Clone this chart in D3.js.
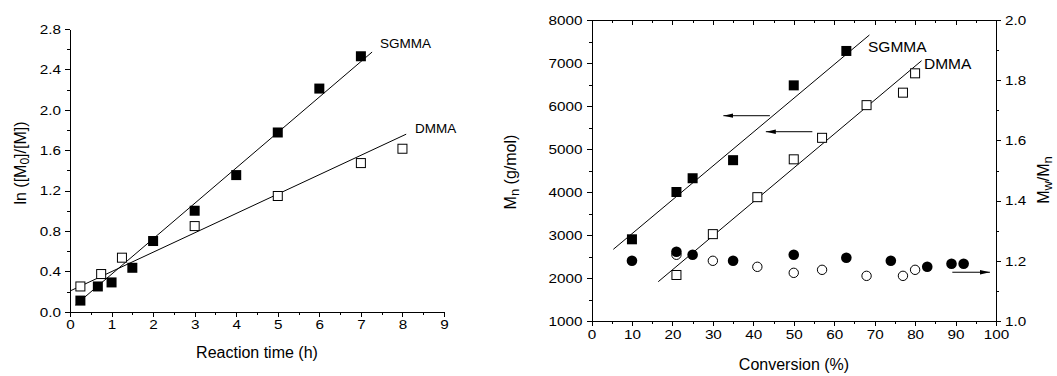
<html>
<head>
<script src="https://d3js.org/d3.v7.min.js"></script>
<style>
body { margin: 0; background: #fff; }
.axis path, .axis line { fill: none; stroke: #000; stroke-width: 1; shape-rendering: crispEdges; }
.axis text { font-family: "Liberation Sans", Arial, sans-serif; font-size: 13.5px; fill: #000; }
.title { font-family: "Liberation Sans", Arial, sans-serif; font-size: 16px; fill: #000; }
.lbl { font-family: "Liberation Sans", Arial, sans-serif; fill: #000; }
.fit { stroke: #000; stroke-width: 1; fill: none; }
</style>
</head>
<body>
<div id="vis_container"></div>
<script>
// ---- left chart data: ln([M0]/[M]) vs time
var timeSG = [0.25, 0.67, 1, 1.5, 2, 3, 4, 5, 6, 7];
var lnSG = [0.11, 0.25, 0.29, 0.435, 0.70, 1.0, 1.353, 1.775, 2.21, 2.53];
var timeDM = [0.25, 0.75, 1.25, 3, 5, 7, 8];
var lnDM = [0.25, 0.373, 0.535, 0.848, 1.146, 1.472, 1.614];
// linear fits [intercept, slope, tStart, tEnd]
var fitSG = [0.02, 0.351, 0.13, 7.27];
var fitDM = [0.205, 0.192, 0.0, 8.09];
var xTicksL = [0, 1, 2, 3, 4, 5, 6, 7, 8, 9];
var yTicksL = [0, 0.4, 0.8, 1.2, 1.6, 2.0, 2.4, 2.8];

// ---- right chart data: Mn and Mw/Mn vs conversion
var convSG = [10, 21, 25, 35, 50, 63];
var mnSG = [2900, 4000, 4320, 4740, 6480, 7280];
var convDM = [21, 30, 41, 50, 57, 68, 77, 80];
var mnDM = [2070, 3020, 3880, 4760, 5260, 6020, 6310, 6760];
var convPdiSG = [10, 21, 25, 35, 50, 63, 74, 83, 89, 92];
var pdiSG = [1.20, 1.23, 1.22, 1.20, 1.22, 1.21, 1.20, 1.18, 1.19, 1.19];
var convPdiDM = [21, 30, 41, 50, 57, 68, 77, 80];
var pdiDM = [1.22, 1.20, 1.18, 1.16, 1.17, 1.15, 1.15, 1.17];
// fits in data units [x0, y0, x1, y1]
var fitMnSG = [5.4, 2667, 68.7, 7651];
var fitMnDM = [16.5, 1914, 81.6, 7053];
var xTicksR = [0, 10, 20, 30, 40, 50, 60, 70, 80, 90, 100];
var yTicksR = [1000, 2000, 3000, 4000, 5000, 6000, 7000, 8000];
var y2TicksR = [1.0, 1.2, 1.4, 1.6, 1.8, 2.0];

var width = 1057, height = 376;
var svg = d3.select("#vis_container").append("svg")
    .attr("width", width).attr("height", height);

svg.append("defs").append("marker")
    .attr("id", "arr").attr("viewBox", "0 0 10 6")
    .attr("refX", 10).attr("refY", 3)
    .attr("markerWidth", 10).attr("markerHeight", 6)
    .attr("markerUnits", "userSpaceOnUse")
    .attr("orient", "auto")
    .append("path").attr("d", "M0,0.8 L10,3 L0,5.2 Z").attr("fill", "#000");

function minor(lo, hi, step) {
    var a = [];
    for (var v = lo; v <= hi + 1e-9; v += step) a.push(+v.toFixed(4));
    return a;
}

function drawAxis(g, axisFn, scale, major, minorStep, fmt, outward) {
    var mn = minor(scale.domain()[0], scale.domain()[1], minorStep);
    g.append("g").attr("class", "axis")
        .call(axisFn(scale).tickValues(mn).tickSize(outward ? 3 : -3).tickFormat(""))
        .select(".domain").remove();
    g.append("g").attr("class", "axis")
        .call(axisFn(scale).tickValues(major).tickSize(outward ? 5 : -5).tickSizeOuter(0).tickPadding(3).tickFormat(fmt))
        .selectAll("text").attr("transform", "scale(1.13,1)");
}

// ================= left chart
var xL = d3.scaleLinear().domain([0, 9]).range([70, 444]);
var yL = d3.scaleLinear().domain([0, 2.8]).range([311.7, 29]);
var gL = svg.append("g");

var gxL = gL.append("g").attr("transform", "translate(0," + yL(0) + ")");
drawAxis(gxL, d3.axisBottom, xL, xTicksL, 0.5, d3.format("d"), true);
var gyL = gL.append("g").attr("transform", "translate(" + xL(0) + ",0)");
drawAxis(gyL, d3.axisLeft, yL, yTicksL, 0.2, d3.format(".1f"), true);

[fitSG, fitDM].forEach(function(f) {
    gL.append("line").attr("class", "fit")
        .attr("x1", xL(f[2])).attr("y1", yL(f[0] + f[1] * f[2]))
        .attr("x2", xL(f[3])).attr("y2", yL(f[0] + f[1] * f[3]));
});

var sq = 10;
gL.selectAll("rect.dm").data(timeDM).enter().append("rect")
    .attr("x", function(d) { return xL(d) - sq / 2 + 0.5; })
    .attr("y", function(d, i) { return yL(lnDM[i]) - sq / 2 + 0.5; })
    .attr("width", sq - 1).attr("height", sq - 1)
    .attr("fill", "#fff").attr("stroke", "#000").attr("stroke-width", 1);
gL.selectAll("rect.sg").data(timeSG).enter().append("rect")
    .attr("x", function(d) { return xL(d) - sq / 2; })
    .attr("y", function(d, i) { return yL(lnSG[i]) - sq / 2; })
    .attr("width", sq).attr("height", sq).attr("fill", "#000");

gL.append("text").attr("class", "lbl").attr("font-size", "13.5px").attr("x", 380).attr("y", 48).text("SGMMA");
gL.append("text").attr("class", "lbl").attr("font-size", "13.5px").attr("x", 415).attr("y", 133).text("DMMA");

gL.append("text").attr("class", "title").attr("text-anchor", "middle")
    .attr("x", 257).attr("y", 358).text("Reaction time (h)");
var tl = gL.append("text").attr("class", "title").attr("text-anchor", "middle")
    .attr("transform", "translate(26,163) rotate(-90)");
tl.append("tspan").text("ln ([M");
tl.append("tspan").attr("baseline-shift", "-25%").attr("font-size", "12px").text("0");
tl.append("tspan").text("]/[M])");

// ================= right chart
var xR = d3.scaleLinear().domain([0, 100]).range([591.5, 996]);
var yR = d3.scaleLinear().domain([1000, 8000]).range([321, 20]);
var y2R = d3.scaleLinear().domain([1.0, 2.0]).range([321, 20]);
var gR = svg.append("g");

var gxR = gR.append("g").attr("transform", "translate(0," + yR(1000) + ")");
drawAxis(gxR, d3.axisBottom, xR, xTicksR, 5, d3.format("d"), true);
var gtR = gR.append("g").attr("transform", "translate(0," + yR(8000) + ")");
drawAxis(gtR, d3.axisTop, xR, xTicksR, 5, "", false);
var gyR = gR.append("g").attr("transform", "translate(" + xR(0) + ",0)");
drawAxis(gyR, d3.axisLeft, yR, yTicksR, 500, d3.format("d"), true);
var gy2R = gR.append("g").attr("transform", "translate(" + xR(100) + ",0)");
drawAxis(gy2R, d3.axisRight, y2R, y2TicksR, 0.1, d3.format(".1f"), true);

[fitMnSG, fitMnDM].forEach(function(f) {
    gR.append("line").attr("class", "fit")
        .attr("x1", xR(f[0])).attr("y1", yR(f[1]))
        .attr("x2", xR(f[2])).attr("y2", yR(f[3]));
});

gR.selectAll("circle.dm").data(convPdiDM).enter().append("circle")
    .attr("cx", function(d) { return xR(d); })
    .attr("cy", function(d, i) { return y2R(pdiDM[i]); })
    .attr("r", 4.7).attr("fill", "#fff").attr("stroke", "#000").attr("stroke-width", 1);
gR.selectAll("circle.sg").data(convPdiSG).enter().append("circle")
    .attr("cx", function(d) { return xR(d); })
    .attr("cy", function(d, i) { return y2R(pdiSG[i]); })
    .attr("r", 5.3).attr("fill", "#000");

gR.selectAll("rect.dm").data(convDM).enter().append("rect")
    .attr("x", function(d) { return xR(d) - sq / 2 + 0.5; })
    .attr("y", function(d, i) { return yR(mnDM[i]) - sq / 2 + 0.5; })
    .attr("width", sq - 1).attr("height", sq - 1)
    .attr("fill", "#fff").attr("stroke", "#000").attr("stroke-width", 1);
gR.selectAll("rect.sg").data(convSG).enter().append("rect")
    .attr("x", function(d) { return xR(d) - sq / 2; })
    .attr("y", function(d, i) { return yR(mnSG[i]) - sq / 2; })
    .attr("width", sq).attr("height", sq).attr("fill", "#000");

// arrows pointing to the axis each series belongs to
var arrows = [[44.1, 5774, 32.6, 5774, "L"], [54.6, 5402, 43.1, 5402, "L"], [89.2, 1.162, 98.5, 1.162, "R"]];
arrows.forEach(function(a) {
    var ys = a[4] === "L" ? yR : y2R;
    gR.append("line").attr("stroke", "#000").attr("stroke-width", 1)
        .attr("x1", xR(a[0])).attr("y1", ys(a[1]))
        .attr("x2", xR(a[2])).attr("y2", ys(a[3]))
        .attr("marker-end", "url(#arr)");
});

gR.append("text").attr("class", "lbl").attr("font-size", "15.5px").attr("x", 868).attr("y", 52).text("SGMMA");
gR.append("text").attr("class", "lbl").attr("font-size", "15.5px").attr("x", 924).attr("y", 68.5).text("DMMA");

gR.append("text").attr("class", "title").attr("text-anchor", "middle")
    .attr("x", 794).attr("y", 370).text("Conversion (%)");
var tm = gR.append("text").attr("class", "title").attr("text-anchor", "middle")
    .attr("transform", "translate(516,172) rotate(-90)");
tm.append("tspan").text("M");
tm.append("tspan").attr("baseline-shift", "-25%").attr("font-size", "13px").text("n");
tm.append("tspan").text(" (g/mol)");
var tw = gR.append("text").attr("class", "title").attr("text-anchor", "middle")
    .attr("transform", "translate(1049,180) rotate(-90)");
tw.append("tspan").text("M");
tw.append("tspan").attr("baseline-shift", "-25%").attr("font-size", "13px").text("w");
tw.append("tspan").text("/M");
tw.append("tspan").attr("baseline-shift", "-25%").attr("font-size", "13px").text("n");
</script>
</body>
</html>
